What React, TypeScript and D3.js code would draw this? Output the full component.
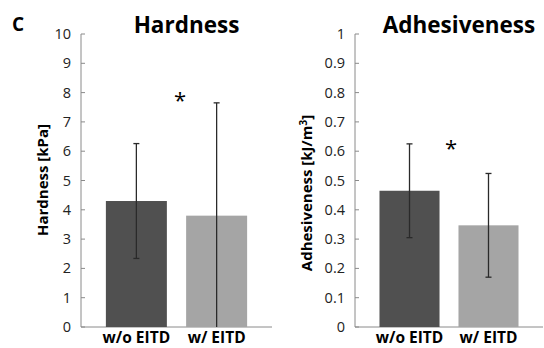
import React from "react";
import * as d3 from "d3";

const groups = ["w/o EITD", "w/ EITD"];
const hardness = [4.3, 3.8];
const hardnessErr = [1.96, 3.85];
const adhesiveness = [0.465, 0.347];
const adhesivenessErr = [0.16, 0.177];
const hardnessTicks = [0, 1, 2, 3, 4, 5, 6, 7, 8, 9, 10];
const adhesivenessTicks = [0, 0.1, 0.2, 0.3, 0.4, 0.5, 0.6, 0.7, 0.8, 0.9, 1];
const barColors = ["#505050", "#a5a5a5"];

const font = "'Open Sans', sans-serif";

function Panel({ x0, x1, title, yLabel, values, errs, ticks, max, star }) {
  const top = 34;
  const bottom = 327;
  const y = d3.scaleLinear().domain([0, max]).range([bottom, top]);
  const x = d3.scaleBand().domain(groups).range([x0, x1]).paddingInner(0.24).paddingOuter(0.31);
  return (
    <g>
      <text x={(x0 + x1) / 2 + 10} y={33} textAnchor="middle" fontSize={22.5} fontWeight="bold" fontFamily={font}>
        {title}
      </text>
      <line x1={x0} x2={x0} y1={y(max)} y2={bottom} stroke="#8a8a8a" />
      <line x1={x0} x2={x1} y1={bottom} y2={bottom} stroke="#8a8a8a" />
      {ticks.map((t) => (
        <g key={t}>
          <line x1={x0} x2={x0 + 4} y1={y(t)} y2={y(t)} stroke="#8a8a8a" />
          <text x={x0 - 10} y={y(t) + 5} textAnchor="end" fontSize={14.5} fontFamily={font} fill="#222">
            {String(t)}
          </text>
        </g>
      ))}
      {groups.map((g, i) => {
        const cx = x(g) + x.bandwidth() / 2;
        const hi = y(values[i] + errs[i]);
        const lo = y(Math.max(0, values[i] - errs[i]));
        return (
          <g key={g}>
            <rect x={x(g)} width={x.bandwidth()} y={y(values[i])} height={bottom - y(values[i])} fill={barColors[i]} />
            <line x1={cx} x2={cx} y1={hi} y2={lo} stroke="#2a2a2a" strokeWidth={1.3} />
            <line x1={cx - 3} x2={cx + 3} y1={hi} y2={hi} stroke="#2a2a2a" strokeWidth={1.3} />
            {values[i] - errs[i] > 0 && (
              <line x1={cx - 3} x2={cx + 3} y1={lo} y2={lo} stroke="#2a2a2a" strokeWidth={1.3} />
            )}
            <text x={cx} y={343} textAnchor="middle" fontSize={15.5} fontWeight="bold" fontFamily={font}>
              {g}
            </text>
          </g>
        );
      })}
      <text x={star[0]} y={y(star[1]) + 12} textAnchor="middle" fontSize={22} fontFamily={font}>
        *
      </text>
      <text
        transform={`translate(${yLabel.x},${yLabel.cy}) rotate(-90)`}
        textAnchor="middle"
        fontSize={15}
        fontWeight="bold"
        fontFamily={font}
      >
        {yLabel.content}
      </text>
    </g>
  );
}

export default function App() {
  return (
    <svg width={544} height={348} style={{ position: "absolute", left: 0, top: 0, background: "#fff" }}>
      <text x={12} y={31} fontSize={19} fontWeight="bold" fontFamily={font}>
        C
      </text>
      <Panel
        x0={81}
        x1={272}
        title="Hardness"
        yLabel={{ x: 48, cy: 180, content: "Hardness [kPa]" }}
        values={hardness}
        errs={hardnessErr}
        ticks={hardnessTicks}
        max={10}
        star={[180, 7.9]}
      />
      <Panel
        x0={355}
        x1={543}
        title="Adhesiveness"
        yLabel={{ x: 312, cy: 193, content: <>Adhesiveness [kJ/m<tspan dy={-5} fontSize={10}>3</tspan><tspan dy={5}>]</tspan></> }}
        values={adhesiveness}
        errs={adhesivenessErr}
        ticks={adhesivenessTicks}
        max={1}
        star={[451, 0.625]}
      />
    </svg>
  );
}
